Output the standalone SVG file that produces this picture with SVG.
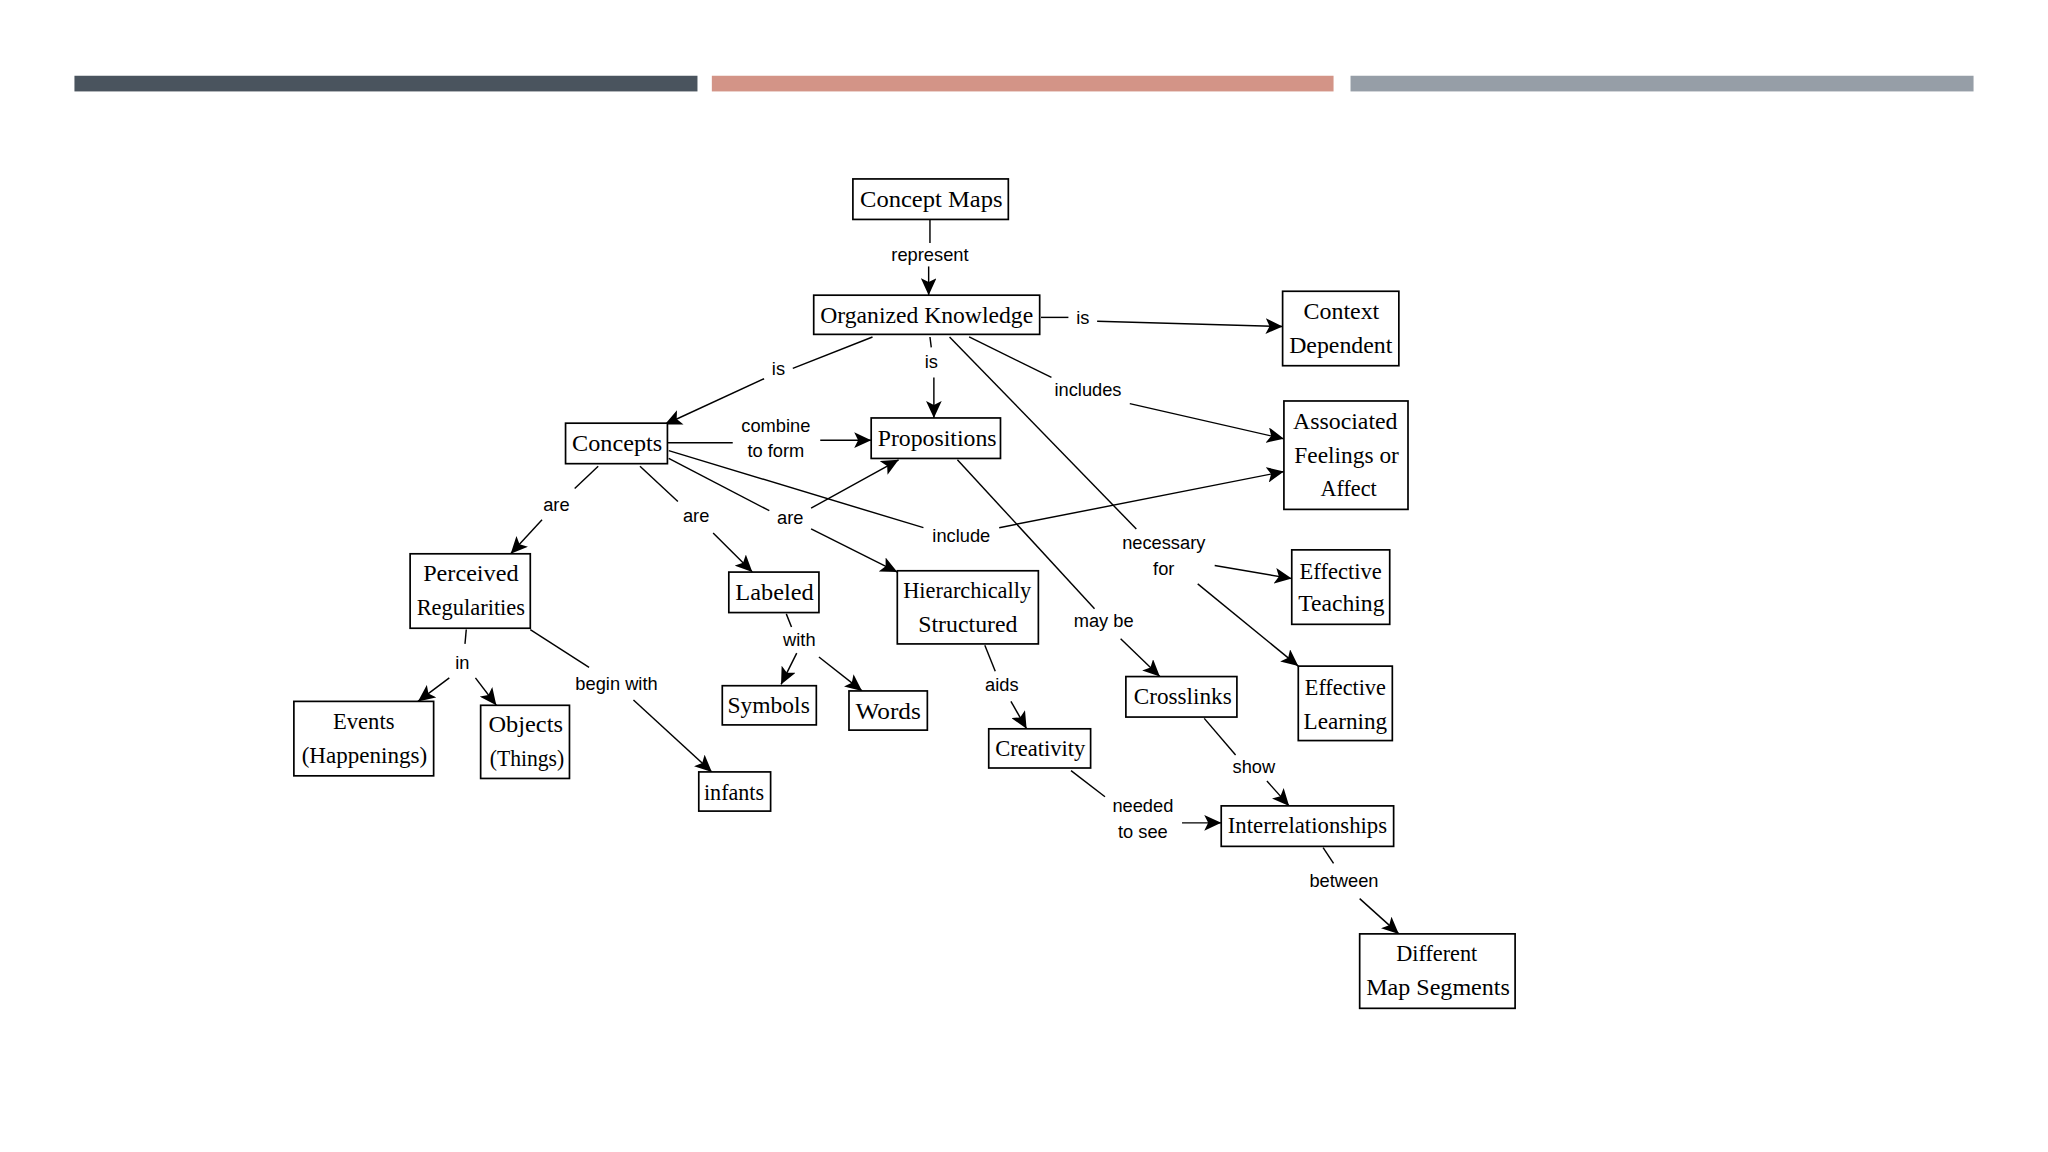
<svg xmlns="http://www.w3.org/2000/svg" width="2048" height="1152" viewBox="0 0 2048 1152">
<style>
.box{fill:#fff;stroke:#000;stroke-width:1.3}
.nt{font-family:"Liberation Serif","Times New Roman",serif;font-size:18px;fill:#000;text-anchor:middle;dominant-baseline:central}
.lt{font-family:"Liberation Sans",Arial,sans-serif;font-size:14px;fill:#000;text-anchor:middle;dominant-baseline:central}
.ln{fill:none;stroke:#000;stroke-width:1.1}
.ar{fill:none;stroke:#000;stroke-width:1.1;marker-end:url(#ah)}
</style>
<defs>
<marker id="ah" markerUnits="userSpaceOnUse" markerWidth="14" markerHeight="12" refX="13" refY="6" orient="auto">
<path d="M0,0 L13,6 L0,12 L3,6 Z" fill="#000"/>
</marker>
</defs>
<rect width="2048" height="1152" fill="#fff"/>
<g transform="scale(1.306122)">
<g id="bars">
<rect x="57" y="58" width="477" height="12" fill="#4a545e"/>
<rect x="545" y="58" width="476" height="12" fill="#d39487"/>
<rect x="1034" y="58" width="477" height="12" fill="#969ea7"/>
</g>
<g id="connectors">
<path class="ln" d="M712,168 L712,186"/>
<path class="ar" d="M711,204 L711,226"/>
<text class="lt" x="712" y="195">represent</text>
<path class="ln" d="M797,243 L818,243"/>
<path class="ar" d="M840,246 L982,250"/>
<text class="lt" x="829" y="243">is</text>
<path class="ln" d="M668,258 L607,282"/>
<path class="ar" d="M585,290 L509,325"/>
<text class="lt" x="596" y="282">is</text>
<path class="ln" d="M712,258 L713,266"/>
<path class="ar" d="M715,289 L715,320"/>
<text class="lt" x="713" y="277">is</text>
<path class="ln" d="M742,258 L805,289"/>
<path class="ar" d="M865,309 L983,336"/>
<text class="lt" x="833" y="298">includes</text>
<path class="ln" d="M727,258 L870,405"/>
<path class="ar" d="M930,433 L989,443"/>
<path class="ar" d="M917,447 L994,510"/>
<text class="lt" x="891" y="415">necessary</text>
<text class="lt" x="891" y="435">for</text>
<path class="ln" d="M511,339 L561,339"/>
<path class="ar" d="M628,337 L667,337"/>
<text class="lt" x="594" y="326">combine</text>
<text class="lt" x="594" y="345">to form</text>
<path class="ln" d="M458,357 L440,374"/>
<path class="ar" d="M415,398 L391,424"/>
<text class="lt" x="426" y="386">are</text>
<path class="ln" d="M490,357 L519,384"/>
<path class="ar" d="M546,408 L576,438"/>
<text class="lt" x="533" y="395">are</text>
<path class="ln" d="M512,351 L589,391"/>
<path class="ar" d="M621,389 L688,352"/>
<path class="ar" d="M621,405 L687,438"/>
<text class="lt" x="605" y="396">are</text>
<path class="ln" d="M512,345 L707,404"/>
<path class="ar" d="M765,404 L983,361"/>
<text class="lt" x="736" y="410">include</text>
<path class="ln" d="M733,352 L838,466"/>
<path class="ar" d="M858,489 L888,518"/>
<text class="lt" x="845" y="475">may be</text>
<path class="ln" d="M357,482 L356,493"/>
<path class="ar" d="M344,519 L320,537"/>
<path class="ar" d="M364,519 L380,540"/>
<text class="lt" x="354" y="507">in</text>
<path class="ln" d="M406,482 L451,511"/>
<path class="ar" d="M485,536 L545,591"/>
<text class="lt" x="472" y="523">begin with</text>
<path class="ln" d="M602,470 L606,480"/>
<path class="ar" d="M610,500 L598,524"/>
<path class="ar" d="M627,503 L660,529"/>
<text class="lt" x="612" y="490">with</text>
<path class="ln" d="M754,494 L762,514"/>
<path class="ar" d="M774,537 L786,558"/>
<text class="lt" x="767" y="524">aids</text>
<path class="ln" d="M922,550 L946,578"/>
<path class="ar" d="M970,598 L987,617"/>
<text class="lt" x="960" y="587">show</text>
<path class="ln" d="M820,590 L846,610"/>
<path class="ar" d="M905,630 L935,630"/>
<text class="lt" x="875" y="617">needed</text>
<text class="lt" x="875" y="637">to see</text>
<path class="ln" d="M1013,649 L1021,661"/>
<path class="ar" d="M1041,688 L1071,715"/>
<text class="lt" x="1029" y="674">between</text>
</g>
<g id="n-conceptmaps"><rect class="box" x="653" y="137" width="119" height="31"/><text class="nt" x="713" y="152" textLength="109" lengthAdjust="spacingAndGlyphs">Concept Maps</text></g>
<g id="n-organized"><rect class="box" x="623" y="226" width="173" height="30"/><text class="nt" x="709.5" y="241" textLength="163" lengthAdjust="spacingAndGlyphs">Organized Knowledge</text></g>
<g id="n-context"><rect class="box" x="982" y="223" width="89" height="57"/><text class="nt" x="1027" y="238" textLength="58" lengthAdjust="spacingAndGlyphs">Context</text><text class="nt" x="1026.5" y="264" textLength="79" lengthAdjust="spacingAndGlyphs">Dependent</text></g>
<g id="n-associated"><rect class="box" x="983" y="307" width="95" height="83"/><text class="nt" x="1030" y="322" textLength="80" lengthAdjust="spacingAndGlyphs">Associated</text><text class="nt" x="1031" y="348" textLength="80" lengthAdjust="spacingAndGlyphs">Feelings or</text><text class="nt" x="1032.5" y="374" textLength="43" lengthAdjust="spacingAndGlyphs">Affect</text></g>
<g id="n-concepts"><rect class="box" x="433" y="324" width="78" height="31"/><text class="nt" x="472.5" y="339" textLength="69" lengthAdjust="spacingAndGlyphs">Concepts</text></g>
<g id="n-propositions"><rect class="box" x="667" y="320" width="99" height="31"/><text class="nt" x="717.5" y="335" textLength="91" lengthAdjust="spacingAndGlyphs">Propositions</text></g>
<g id="n-perceived"><rect class="box" x="314" y="424" width="92" height="57"/><text class="nt" x="360.5" y="439" textLength="73" lengthAdjust="spacingAndGlyphs">Perceived</text><text class="nt" x="360.5" y="465" textLength="83" lengthAdjust="spacingAndGlyphs">Regularities</text></g>
<g id="n-labeled"><rect class="box" x="558" y="438" width="69" height="31"/><text class="nt" x="593" y="453" textLength="60" lengthAdjust="spacingAndGlyphs">Labeled</text></g>
<g id="n-hierarchically"><rect class="box" x="687" y="437" width="108" height="56"/><text class="nt" x="740.5" y="452" textLength="98" lengthAdjust="spacingAndGlyphs">Hierarchically</text><text class="nt" x="741" y="478" textLength="76" lengthAdjust="spacingAndGlyphs">Structured</text></g>
<g id="n-events"><rect class="box" x="225" y="537" width="107" height="57"/><text class="nt" x="278.5" y="552" textLength="47" lengthAdjust="spacingAndGlyphs">Events</text><text class="nt" x="279" y="578" textLength="96" lengthAdjust="spacingAndGlyphs">(Happenings)</text></g>
<g id="n-objects"><rect class="box" x="368" y="540" width="68" height="56"/><text class="nt" x="402.5" y="554" textLength="57" lengthAdjust="spacingAndGlyphs">Objects</text><text class="nt" x="403.5" y="580" textLength="57" lengthAdjust="spacingAndGlyphs">(Things)</text></g>
<g id="n-infants"><rect class="box" x="535" y="591" width="55" height="30"/><text class="nt" x="562" y="606" textLength="46" lengthAdjust="spacingAndGlyphs">infants</text></g>
<g id="n-symbols"><rect class="box" x="553" y="525" width="72" height="30"/><text class="nt" x="588.5" y="540" textLength="63" lengthAdjust="spacingAndGlyphs">Symbols</text></g>
<g id="n-words"><rect class="box" x="650" y="529" width="60" height="30"/><text class="nt" x="680" y="544" textLength="50" lengthAdjust="spacingAndGlyphs">Words</text></g>
<g id="n-creativity"><rect class="box" x="757" y="558" width="78" height="30"/><text class="nt" x="796.5" y="573" textLength="69" lengthAdjust="spacingAndGlyphs">Creativity</text></g>
<g id="n-crosslinks"><rect class="box" x="862" y="518" width="85" height="31"/><text class="nt" x="905.5" y="533" textLength="75" lengthAdjust="spacingAndGlyphs">Crosslinks</text></g>
<g id="n-teaching"><rect class="box" x="989" y="421" width="75" height="57"/><text class="nt" x="1026.5" y="437" textLength="63" lengthAdjust="spacingAndGlyphs">Effective</text><text class="nt" x="1027" y="462" textLength="66" lengthAdjust="spacingAndGlyphs">Teaching</text></g>
<g id="n-learning"><rect class="box" x="994" y="510" width="72" height="57"/><text class="nt" x="1030" y="526" textLength="62" lengthAdjust="spacingAndGlyphs">Effective</text><text class="nt" x="1030" y="552" textLength="64" lengthAdjust="spacingAndGlyphs">Learning</text></g>
<g id="n-interrelationships"><rect class="box" x="935" y="617" width="132" height="31"/><text class="nt" x="1001" y="632" textLength="122" lengthAdjust="spacingAndGlyphs">Interrelationships</text></g>
<g id="n-different"><rect class="box" x="1041" y="715" width="119" height="57"/><text class="nt" x="1100" y="730" textLength="62" lengthAdjust="spacingAndGlyphs">Different</text><text class="nt" x="1101" y="756" textLength="110" lengthAdjust="spacingAndGlyphs">Map Segments</text></g>
</g>
</svg>
